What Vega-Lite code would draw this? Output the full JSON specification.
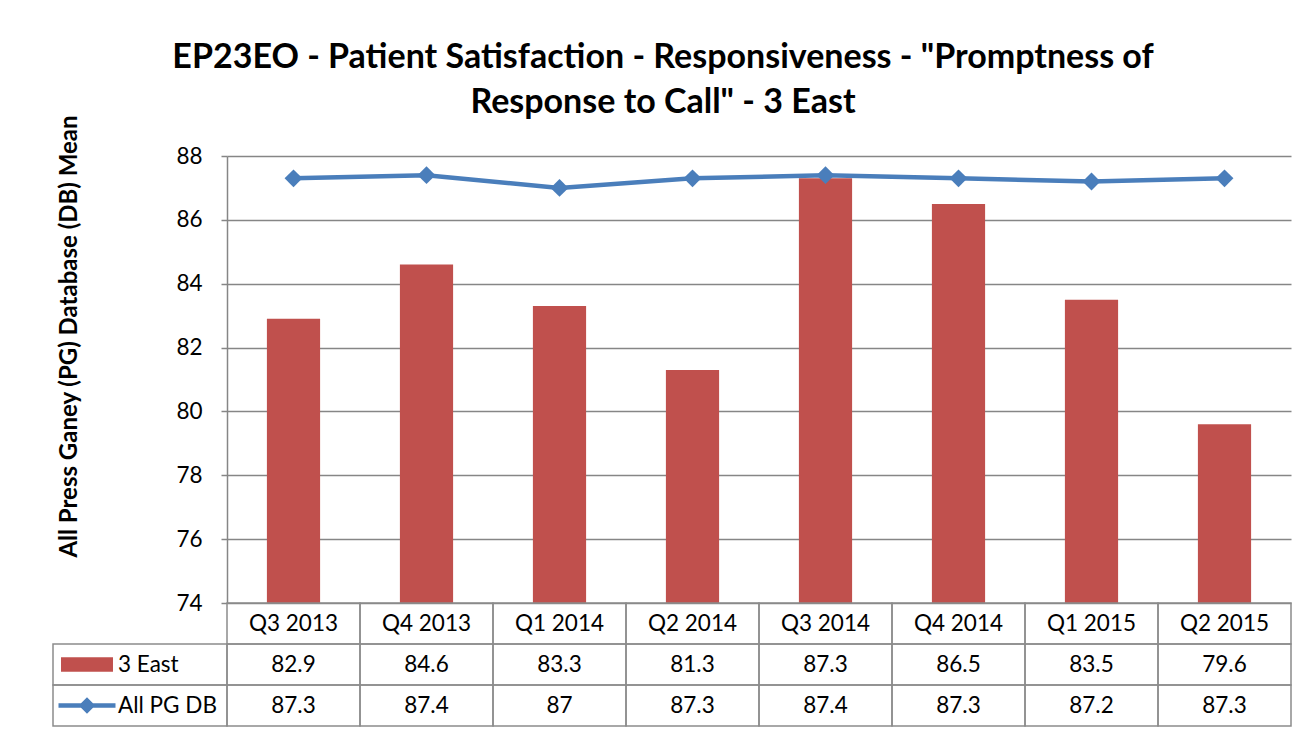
{
  "$schema": "https://vega.github.io/schema/vega-lite/v6.json",
  "padding": {"left": 52, "top": 40, "right": 13, "bottom": 7},
  "background": "white",
  "datasets": {
    "scores": [
      {"quarter": "Q3 2013", "3 East": 82.9, "All PG DB": 87.3},
      {"quarter": "Q4 2013", "3 East": 84.6, "All PG DB": 87.4},
      {"quarter": "Q1 2014", "3 East": 83.3, "All PG DB": 87},
      {"quarter": "Q2 2014", "3 East": 81.3, "All PG DB": 87.3},
      {"quarter": "Q3 2014", "3 East": 87.3, "All PG DB": 87.4},
      {"quarter": "Q4 2014", "3 East": 86.5, "All PG DB": 87.3},
      {"quarter": "Q1 2015", "3 East": 83.5, "All PG DB": 87.2},
      {"quarter": "Q2 2015", "3 East": 79.6, "All PG DB": 87.3}
    ],
    "series": [
      {"series": "3 East"},
      {"series": "All PG DB"}
    ]
  },
  "title": {
    "text": ["EP23EO - Patient Satisfaction - Responsiveness - \"Promptness of", "Response to Call\" - 3 East"],
    "font": "Lato",
    "fontSize": 34,
    "fontWeight": "bold",
    "color": "black",
    "lineHeight": 45,
    "anchor": "middle",
    "dx": -9,
    "offset": -5
  },
  "columns": 2,
  "spacing": 0,
  "bounds": "flush",
  "concat": [
    {
      "width": 174,
      "height": 447,
      "data": {"values": []},
      "mark": "point"
    },
    {
      "width": 1064,
      "height": 447,
      "data": {"name": "scores"},
      "layer": [
        {
          "mark": {"type": "bar", "color": "#C0504D", "width": {"band": 0.4}},
          "encoding": {
            "x": {
              "field": "quarter", "type": "nominal",
              "scale": {"domain": ["Q3 2013","Q4 2013","Q1 2014","Q2 2014","Q3 2014","Q4 2014","Q1 2015","Q2 2015"], "paddingInner": 0, "paddingOuter": 0},
              "axis": null
            },
            "y": {
              "field": "3 East", "type": "quantitative",
              "scale": {"domain": [74, 88], "nice": false, "zero": false},
              "axis": {
                "values": [74, 76, 78, 80, 82, 84, 86, 88],
                "grid": true, "gridColor": "#868686", "gridWidth": 1.5,
                "domainColor": "#868686", "domainWidth": 1.5,
                "tickColor": "#868686", "tickSize": 6, "tickWidth": 1.5,
                "labelFont": "Lato", "labelFontSize": 22.5, "labelColor": "black", "labelPadding": 19,
                "title": "All Press Ganey (PG) Database (DB) Mean",
                "titleFont": "Lato", "titleFontSize": 24, "titleFontWeight": "bold", "titleColor": "black",
                "titlePadding": 94, "titleY": 180
              }
            },
            "y2": {"datum": 74}
          }
        },
        {
          "mark": {
            "type": "line", "color": "#4A7EBB", "strokeWidth": 4.5,
            "point": {"shape": "diamond", "size": 320, "filled": true, "color": "#4A7EBB"}
          },
          "encoding": {
            "x": {"field": "quarter", "type": "nominal"},
            "y": {"field": "All PG DB", "type": "quantitative"}
          }
        }
      ]
    },
    {
      "width": 174,
      "height": 123,
      "data": {"name": "series"},
      "encoding": {
        "y": {
          "field": "series", "type": "nominal",
          "scale": {"domain": ["header", "3 East", "All PG DB"], "paddingInner": 0, "paddingOuter": 0},
          "axis": null
        }
      },
      "layer": [
        {
          "mark": {"type": "rect", "fill": "transparent", "stroke": "#8C8C8C", "strokeWidth": 1.5}
        },
        {
          "mark": {"type": "point", "filled": true, "size": 3249, "opacity": 1, "strokeWidth": 0},
          "encoding": {
            "x": {"datum": "symbol", "type": "nominal", "scale": {"type": "point", "domain": ["symbol", "label"], "range": [34, 65], "padding": 0}, "axis": null},
            "shape": {
              "field": "series", "type": "nominal",
              "scale": {"domain": ["3 East", "All PG DB"], "range": ["M-0.912,-0.256H0.912V0.256H-0.912Z", "M-1,-0.077H1V0.077H-1Z M0,-0.29L0.29,0L0,0.29L-0.29,0Z"]},
              "legend": null
            },
            "color": {
              "field": "series", "type": "nominal",
              "scale": {"domain": ["3 East", "All PG DB"], "range": ["#C0504D", "#4A7EBB"]},
              "legend": null
            }
          }
        },
        {
          "mark": {"type": "text", "align": "left", "baseline": "middle", "font": "Lato", "fontSize": 22.5, "color": "black"},
          "encoding": {
            "x": {"datum": "label", "type": "nominal"},
            "text": {"field": "series"}
          }
        }
      ]
    },
    {
      "width": 1064,
      "height": 123,
      "data": {"name": "scores"},
      "encoding": {
        "x": {
          "field": "quarter", "type": "nominal",
          "scale": {"domain": ["Q3 2013","Q4 2013","Q1 2014","Q2 2014","Q3 2014","Q4 2014","Q1 2015","Q2 2015"], "paddingInner": 0, "paddingOuter": 0},
          "axis": null
        }
      },
      "layer": [
        {
          "mark": {"type": "rect", "fill": "transparent", "stroke": "#8C8C8C", "strokeWidth": 1.5},
          "encoding": {
            "y": {"datum": "header", "type": "nominal", "scale": {"domain": ["header", "3 East", "All PG DB"], "paddingInner": 0, "paddingOuter": 0}, "axis": null}
          }
        },
        {
          "mark": {"type": "text", "font": "Lato", "fontSize": 22.5, "color": "black", "baseline": "middle"},
          "encoding": {
            "y": {"datum": "header", "type": "nominal"},
            "text": {"field": "quarter"}
          }
        },
        {
          "transform": [{"fold": ["3 East", "All PG DB"], "as": ["series", "value"]}],
          "mark": {"type": "rect", "fill": "transparent", "stroke": "#8C8C8C", "strokeWidth": 1.5},
          "encoding": {
            "y": {"field": "series", "type": "nominal"}
          }
        },
        {
          "transform": [{"fold": ["3 East", "All PG DB"], "as": ["series", "value"]}],
          "mark": {"type": "text", "font": "Lato", "fontSize": 22.5, "color": "black", "baseline": "middle"},
          "encoding": {
            "y": {"field": "series", "type": "nominal"},
            "text": {"field": "value", "type": "quantitative"}
          }
        }
      ]
    }
  ],
  "config": {
    "view": {"stroke": null}
  }
}
